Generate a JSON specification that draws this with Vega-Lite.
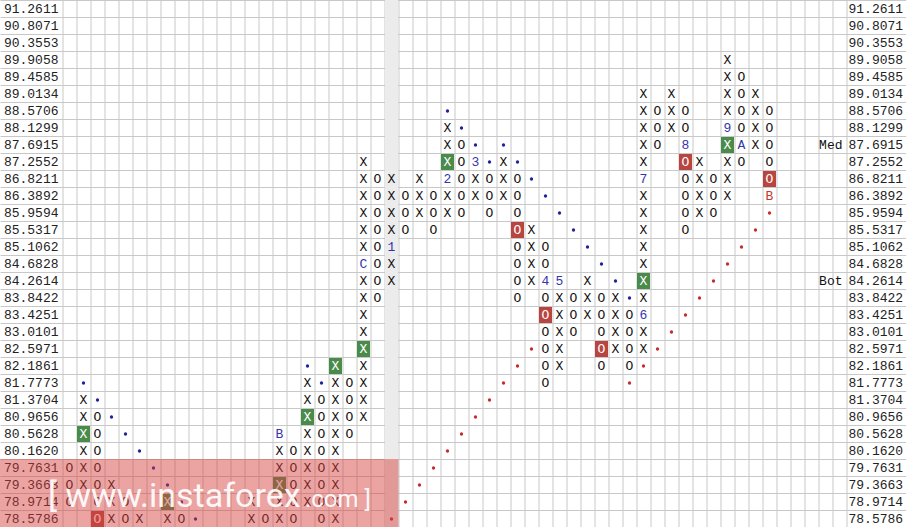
{
"$schema": "https://vega.github.io/schema/vega-lite/v6.json",
"width": 906, "height": 527,
"autosize": {"type": "none"},
"padding": 0,
"background": "white",
"config": {"view": {"stroke": null}},
"datasets": {
"gray": [{"c": 23}],
"green": [{"c":1,"p":"80.5628"},{"c":7,"p":"78.9714"},{"c":15,"p":"79.3663"},{"c":17,"p":"80.9656"},{"c":19,"p":"82.1861"},{"c":21,"p":"82.5971"},{"c":27,"p":"87.2552"},{"c":41,"p":"84.2614"},{"c":47,"p":"87.6915"}],
"red": [{"c":2,"p":"78.5786"},{"c":32,"p":"85.5317"},{"c":34,"p":"83.4251"},{"c":38,"p":"82.5971"},{"c":44,"p":"87.2552"},{"c":50,"p":"86.8211"}],
"white": [{"c":1,"p":"80.5628","t":"X"},{"c":7,"p":"78.9714","t":"X"},{"c":15,"p":"79.3663","t":"X"},{"c":17,"p":"80.9656","t":"X"},{"c":19,"p":"82.1861","t":"X"},{"c":21,"p":"82.5971","t":"X"},{"c":27,"p":"87.2552","t":"X"},{"c":41,"p":"84.2614","t":"X"},{"c":47,"p":"87.6915","t":"X"},{"c":2,"p":"78.5786","t":"O"},{"c":32,"p":"85.5317","t":"O"},{"c":34,"p":"83.4251","t":"O"},{"c":38,"p":"82.5971","t":"O"},{"c":44,"p":"87.2552","t":"O"},{"c":50,"p":"86.8211","t":"O"}],
"blue": [{"c":15,"p":"80.5628","t":"B"},{"c":21,"p":"84.6828","t":"C"},{"c":23,"p":"85.1062","t":"1"},{"c":27,"p":"86.8211","t":"2"},{"c":29,"p":"87.2552","t":"3"},{"c":34,"p":"84.2614","t":"4"},{"c":35,"p":"84.2614","t":"5"},{"c":41,"p":"83.4251","t":"6"},{"c":41,"p":"86.8211","t":"7"},{"c":44,"p":"87.6915","t":"8"},{"c":47,"p":"88.1299","t":"9"},{"c":48,"p":"87.6915","t":"A"}],
"redtext": [{"c":50,"p":"86.3892","t":"B"}],
"bdots": [{"c":1,"p":"81.7773"},{"c":2,"p":"81.3704"},{"c":3,"p":"80.9656"},{"c":4,"p":"80.5628"},{"c":5,"p":"80.1620"},{"c":6,"p":"79.7631"},{"c":7,"p":"79.3663"},{"c":8,"p":"78.9714"},{"c":9,"p":"78.5786"},{"c":17,"p":"82.1861"},{"c":18,"p":"81.7773"},{"c":27,"p":"88.5706"},{"c":28,"p":"88.1299"},{"c":29,"p":"87.6915"},{"c":30,"p":"87.2552"},{"c":31,"p":"87.6915"},{"c":32,"p":"87.2552"},{"c":33,"p":"86.8211"},{"c":34,"p":"86.3892"},{"c":35,"p":"85.9594"},{"c":36,"p":"85.5317"},{"c":37,"p":"85.1062"},{"c":38,"p":"84.6828"},{"c":39,"p":"84.2614"},{"c":40,"p":"83.8422"}],
"rdots": [{"c":23,"p":"78.5786"},{"c":24,"p":"78.9714"},{"c":25,"p":"79.3663"},{"c":26,"p":"79.7631"},{"c":27,"p":"80.1620"},{"c":28,"p":"80.5628"},{"c":29,"p":"80.9656"},{"c":30,"p":"81.3704"},{"c":31,"p":"81.7773"},{"c":32,"p":"82.1861"},{"c":33,"p":"82.5971"},{"c":40,"p":"81.7773"},{"c":41,"p":"82.1861"},{"c":42,"p":"82.5971"},{"c":43,"p":"83.0101"},{"c":44,"p":"83.4251"},{"c":45,"p":"83.8422"},{"c":46,"p":"84.2614"},{"c":47,"p":"84.6828"},{"c":48,"p":"85.1062"},{"c":49,"p":"85.5317"},{"c":50,"p":"85.9594"}],
"notes": [{"c":55,"p":"87.6915","t":"Med"},{"c":55,"p":"84.2614","t":"Bot"}],
"wm": [{"p":"79.7631"},{"p":"79.3663"},{"p":"78.9714"},{"p":"78.5786"}],
"xo": [
{"c":0,"p":"79.7631","t":"O"},{"c":0,"p":"79.3663","t":"O"},{"c":0,"p":"78.9714","t":"O"},
{"c":1,"p":"81.3704","t":"X"},{"c":1,"p":"80.9656","t":"X"},{"c":1,"p":"80.1620","t":"X"},{"c":1,"p":"79.7631","t":"X"},{"c":1,"p":"79.3663","t":"X"},
{"c":2,"p":"80.9656","t":"O"},{"c":2,"p":"80.5628","t":"O"},{"c":2,"p":"80.1620","t":"O"},{"c":2,"p":"79.7631","t":"O"},{"c":2,"p":"79.3663","t":"O"},{"c":2,"p":"78.9714","t":"O"},
{"c":3,"p":"79.3663","t":"X"},{"c":3,"p":"78.9714","t":"X"},{"c":3,"p":"78.5786","t":"X"},
{"c":4,"p":"78.9714","t":"O"},{"c":4,"p":"78.5786","t":"O"},
{"c":5,"p":"78.5786","t":"X"},
{"c":7,"p":"78.5786","t":"X"},
{"c":8,"p":"78.5786","t":"O"},
{"c":13,"p":"78.9714","t":"X"},{"c":13,"p":"78.5786","t":"X"},
{"c":14,"p":"78.5786","t":"O"},
{"c":15,"p":"80.1620","t":"X"},{"c":15,"p":"79.7631","t":"X"},{"c":15,"p":"78.9714","t":"X"},{"c":15,"p":"78.5786","t":"X"},
{"c":16,"p":"80.1620","t":"O"},{"c":16,"p":"79.7631","t":"O"},{"c":16,"p":"79.3663","t":"O"},{"c":16,"p":"78.9714","t":"O"},{"c":16,"p":"78.5786","t":"O"},
{"c":17,"p":"81.7773","t":"X"},{"c":17,"p":"81.3704","t":"X"},{"c":17,"p":"80.5628","t":"X"},{"c":17,"p":"80.1620","t":"X"},{"c":17,"p":"79.7631","t":"X"},{"c":17,"p":"79.3663","t":"X"},{"c":17,"p":"78.9714","t":"X"},
{"c":18,"p":"81.3704","t":"O"},{"c":18,"p":"80.9656","t":"O"},{"c":18,"p":"80.5628","t":"O"},{"c":18,"p":"80.1620","t":"O"},{"c":18,"p":"79.7631","t":"O"},{"c":18,"p":"79.3663","t":"O"},{"c":18,"p":"78.9714","t":"O"},{"c":18,"p":"78.5786","t":"O"},
{"c":19,"p":"81.7773","t":"X"},{"c":19,"p":"81.3704","t":"X"},{"c":19,"p":"80.9656","t":"X"},{"c":19,"p":"80.5628","t":"X"},{"c":19,"p":"80.1620","t":"X"},{"c":19,"p":"79.7631","t":"X"},{"c":19,"p":"79.3663","t":"X"},{"c":19,"p":"78.9714","t":"X"},{"c":19,"p":"78.5786","t":"X"},
{"c":20,"p":"81.7773","t":"O"},{"c":20,"p":"81.3704","t":"O"},{"c":20,"p":"80.9656","t":"O"},{"c":20,"p":"80.5628","t":"O"},
{"c":21,"p":"87.2552","t":"X"},{"c":21,"p":"86.8211","t":"X"},{"c":21,"p":"86.3892","t":"X"},{"c":21,"p":"85.9594","t":"X"},{"c":21,"p":"85.5317","t":"X"},{"c":21,"p":"85.1062","t":"X"},{"c":21,"p":"84.2614","t":"X"},{"c":21,"p":"83.8422","t":"X"},{"c":21,"p":"83.4251","t":"X"},{"c":21,"p":"83.0101","t":"X"},{"c":21,"p":"82.1861","t":"X"},{"c":21,"p":"81.7773","t":"X"},{"c":21,"p":"81.3704","t":"X"},{"c":21,"p":"80.9656","t":"X"},
{"c":22,"p":"86.8211","t":"O"},{"c":22,"p":"86.3892","t":"O"},{"c":22,"p":"85.9594","t":"O"},{"c":22,"p":"85.5317","t":"O"},{"c":22,"p":"85.1062","t":"O"},{"c":22,"p":"84.6828","t":"O"},{"c":22,"p":"84.2614","t":"O"},{"c":22,"p":"83.8422","t":"O"},
{"c":23,"p":"86.8211","t":"X"},{"c":23,"p":"86.3892","t":"X"},{"c":23,"p":"85.9594","t":"X"},{"c":23,"p":"85.5317","t":"X"},{"c":23,"p":"84.6828","t":"X"},{"c":23,"p":"84.2614","t":"X"},
{"c":24,"p":"86.3892","t":"O"},{"c":24,"p":"85.9594","t":"O"},{"c":24,"p":"85.5317","t":"O"},
{"c":25,"p":"86.8211","t":"X"},{"c":25,"p":"86.3892","t":"X"},{"c":25,"p":"85.9594","t":"X"},
{"c":26,"p":"86.3892","t":"O"},{"c":26,"p":"85.9594","t":"O"},{"c":26,"p":"85.5317","t":"O"},
{"c":27,"p":"88.1299","t":"X"},{"c":27,"p":"87.6915","t":"X"},{"c":27,"p":"86.3892","t":"X"},{"c":27,"p":"85.9594","t":"X"},
{"c":28,"p":"87.6915","t":"O"},{"c":28,"p":"87.2552","t":"O"},{"c":28,"p":"86.8211","t":"O"},{"c":28,"p":"86.3892","t":"O"},{"c":28,"p":"85.9594","t":"O"},
{"c":29,"p":"86.8211","t":"X"},{"c":29,"p":"86.3892","t":"X"},
{"c":30,"p":"86.8211","t":"O"},{"c":30,"p":"86.3892","t":"O"},{"c":30,"p":"85.9594","t":"O"},
{"c":31,"p":"87.2552","t":"X"},{"c":31,"p":"86.8211","t":"X"},{"c":31,"p":"86.3892","t":"X"},
{"c":32,"p":"86.8211","t":"O"},{"c":32,"p":"86.3892","t":"O"},{"c":32,"p":"85.9594","t":"O"},{"c":32,"p":"85.1062","t":"O"},{"c":32,"p":"84.6828","t":"O"},{"c":32,"p":"84.2614","t":"O"},{"c":32,"p":"83.8422","t":"O"},
{"c":33,"p":"85.5317","t":"X"},{"c":33,"p":"85.1062","t":"X"},{"c":33,"p":"84.6828","t":"X"},{"c":33,"p":"84.2614","t":"X"},
{"c":34,"p":"85.1062","t":"O"},{"c":34,"p":"84.6828","t":"O"},{"c":34,"p":"83.8422","t":"O"},{"c":34,"p":"83.0101","t":"O"},{"c":34,"p":"82.5971","t":"O"},{"c":34,"p":"82.1861","t":"O"},{"c":34,"p":"81.7773","t":"O"},
{"c":35,"p":"83.8422","t":"X"},{"c":35,"p":"83.4251","t":"X"},{"c":35,"p":"83.0101","t":"X"},{"c":35,"p":"82.5971","t":"X"},{"c":35,"p":"82.1861","t":"X"},
{"c":36,"p":"83.8422","t":"O"},{"c":36,"p":"83.4251","t":"O"},{"c":36,"p":"83.0101","t":"O"},
{"c":37,"p":"84.2614","t":"X"},{"c":37,"p":"83.8422","t":"X"},{"c":37,"p":"83.4251","t":"X"},
{"c":38,"p":"83.8422","t":"O"},{"c":38,"p":"83.4251","t":"O"},{"c":38,"p":"83.0101","t":"O"},{"c":38,"p":"82.1861","t":"O"},
{"c":39,"p":"83.8422","t":"X"},{"c":39,"p":"83.4251","t":"X"},{"c":39,"p":"83.0101","t":"X"},{"c":39,"p":"82.5971","t":"X"},
{"c":40,"p":"83.4251","t":"O"},{"c":40,"p":"83.0101","t":"O"},{"c":40,"p":"82.5971","t":"O"},{"c":40,"p":"82.1861","t":"O"},
{"c":41,"p":"89.0134","t":"X"},{"c":41,"p":"88.5706","t":"X"},{"c":41,"p":"88.1299","t":"X"},{"c":41,"p":"87.6915","t":"X"},{"c":41,"p":"87.2552","t":"X"},{"c":41,"p":"86.3892","t":"X"},{"c":41,"p":"85.9594","t":"X"},{"c":41,"p":"85.5317","t":"X"},{"c":41,"p":"85.1062","t":"X"},{"c":41,"p":"84.6828","t":"X"},{"c":41,"p":"83.8422","t":"X"},{"c":41,"p":"83.0101","t":"X"},{"c":41,"p":"82.5971","t":"X"},
{"c":42,"p":"88.5706","t":"O"},{"c":42,"p":"88.1299","t":"O"},{"c":42,"p":"87.6915","t":"O"},
{"c":43,"p":"89.0134","t":"X"},{"c":43,"p":"88.5706","t":"X"},{"c":43,"p":"88.1299","t":"X"},
{"c":44,"p":"88.5706","t":"O"},{"c":44,"p":"88.1299","t":"O"},{"c":44,"p":"86.8211","t":"O"},{"c":44,"p":"86.3892","t":"O"},{"c":44,"p":"85.9594","t":"O"},{"c":44,"p":"85.5317","t":"O"},
{"c":45,"p":"87.2552","t":"X"},{"c":45,"p":"86.8211","t":"X"},{"c":45,"p":"86.3892","t":"X"},{"c":45,"p":"85.9594","t":"X"},
{"c":46,"p":"86.8211","t":"O"},{"c":46,"p":"86.3892","t":"O"},{"c":46,"p":"85.9594","t":"O"},
{"c":47,"p":"89.9058","t":"X"},{"c":47,"p":"89.4585","t":"X"},{"c":47,"p":"89.0134","t":"X"},{"c":47,"p":"88.5706","t":"X"},{"c":47,"p":"87.2552","t":"X"},{"c":47,"p":"86.8211","t":"X"},{"c":47,"p":"86.3892","t":"X"},
{"c":48,"p":"89.4585","t":"O"},{"c":48,"p":"89.0134","t":"O"},{"c":48,"p":"88.5706","t":"O"},{"c":48,"p":"88.1299","t":"O"},{"c":48,"p":"87.2552","t":"O"},
{"c":49,"p":"89.0134","t":"X"},{"c":49,"p":"88.5706","t":"X"},{"c":49,"p":"88.1299","t":"X"},{"c":49,"p":"87.6915","t":"X"},
{"c":50,"p":"88.5706","t":"O"},{"c":50,"p":"88.1299","t":"O"},{"c":50,"p":"87.6915","t":"O"},{"c":50,"p":"87.2552","t":"O"}
]
},
"layer": [
{
 "data": {"name": "gray"},
 "mark": {"type": "rule", "color": "#ececec", "strokeWidth": 13},
 "encoding": {
  "x": {"field": "c", "type": "quantitative",
   "scale": {"domain": [-4.9643, 59.75], "nice": false, "zero": false},
   "axis": {"values": [-0.5,0.5,1.5,2.5,3.5,4.5,5.5,6.5,7.5,8.5,9.5,10.5,11.5,12.5,13.5,14.5,15.5,16.5,17.5,18.5,19.5,20.5,21.5,22.5,23.5,24.5,25.5,26.5,27.5,28.5,29.5,30.5,31.5,32.5,33.5,34.5,35.5,36.5,37.5,38.5,39.5,40.5,41.5,42.5,43.5,44.5,45.5,46.5,47.5,48.5,49.5,50.5,51.5,52.5,53.5,54.5,55.5],
    "tickCount": 200,
    "grid": true, "gridColor": "#c8c8c8", "gridWidth": 1, "labels": false, "ticks": false, "domain": false, "title": null, "translate": 0}
  }
 }
},
{
 "data": {"name": "green"},
 "mark": {"type": "point", "shape": "M-1,-1.2308L1,-1.2308L1,1.2308L-1,1.2308Z", "filled": true, "size": 169, "opacity": 1, "color": "#4a8b4c", "yOffset": 0.5},
 "encoding": {
  "x": {"field": "c", "type": "quantitative"},
  "y": {"field": "p", "type": "ordinal",
   "scale": {"domain": ["91.2611","90.8071","90.3553","89.9058","89.4585","89.0134","88.5706","88.1299","87.6915","87.2552","86.8211","86.3892","85.9594","85.5317","85.1062","84.6828","84.2614","83.8422","83.4251","83.0101","82.5971","82.1861","81.7773","81.3704","80.9656","80.5628","80.1620","79.7631","79.3663","78.9714","78.5786"], "paddingInner": 0, "paddingOuter": 0},
   "axis": {"orient": "left", "offset": -62, "grid": true, "gridColor": "#c8c8c8", "gridWidth": 1, "tickBand": "extent", "ticks": false, "tickSize": 0, "domain": false, "title": null, "labelFont": "Liberation Mono", "labelFontSize": 13, "labelColor": "#222222", "labelPadding": 4}
  }
 }
},
{
 "data": {"name": "red"},
 "mark": {"type": "point", "shape": "M-1,-1.2308L1,-1.2308L1,1.2308L-1,1.2308Z", "filled": true, "size": 169, "opacity": 1, "color": "#b8453f", "yOffset": 0.5},
 "encoding": {
  "x": {"field": "c", "type": "quantitative"},
  "y": {"field": "p", "type": "ordinal", "axis": null}
 }
},
{
 "data": {"name": "bdots"},
 "mark": {"type": "circle", "size": 11, "opacity": 1, "color": "#1f1f9a", "yOffset": 0.5},
 "encoding": {
  "x": {"field": "c", "type": "quantitative"},
  "y": {"field": "p", "type": "ordinal", "axis": null}
 }
},
{
 "data": {"name": "rdots"},
 "mark": {"type": "circle", "size": 11, "opacity": 1, "color": "#c42a2a", "yOffset": 0.5},
 "encoding": {
  "x": {"field": "c", "type": "quantitative"},
  "y": {"field": "p", "type": "ordinal", "axis": null}
 }
},
{
 "data": {"name": "xo"},
 "mark": {"type": "text", "font": "Liberation Mono", "fontSize": 13, "color": "#111111", "baseline": "middle", "align": "center", "yOffset": 0.5},
 "encoding": {
  "x": {"field": "c", "type": "quantitative"},
  "y": {"field": "p", "type": "ordinal",
   "axis": {"orient": "right", "offset": -60, "grid": false, "ticks": false, "tickSize": 0, "domain": false, "title": null, "labelFont": "Liberation Mono", "labelFontSize": 13, "labelColor": "#222222", "labelPadding": 2}},
  "text": {"field": "t"}
 }
},
{
 "data": {"name": "white"},
 "mark": {"type": "text", "font": "Liberation Mono", "fontSize": 13, "color": "#ffffff", "baseline": "middle", "align": "center", "yOffset": 0.5},
 "encoding": {
  "x": {"field": "c", "type": "quantitative"},
  "y": {"field": "p", "type": "ordinal", "axis": null},
  "text": {"field": "t"}
 }
},
{
 "data": {"name": "blue"},
 "mark": {"type": "text", "font": "Liberation Mono", "fontSize": 13, "color": "#3434b0", "baseline": "middle", "align": "center", "yOffset": 0.5},
 "encoding": {
  "x": {"field": "c", "type": "quantitative"},
  "y": {"field": "p", "type": "ordinal", "axis": null},
  "text": {"field": "t"}
 }
},
{
 "data": {"name": "redtext"},
 "mark": {"type": "text", "font": "Liberation Mono", "fontSize": 13, "color": "#c0392b", "baseline": "middle", "align": "center", "yOffset": 0.5},
 "encoding": {
  "x": {"field": "c", "type": "quantitative"},
  "y": {"field": "p", "type": "ordinal", "axis": null},
  "text": {"field": "t"}
 }
},
{
 "data": {"name": "notes"},
 "mark": {"type": "text", "font": "Liberation Mono", "fontSize": 13, "color": "#111111", "baseline": "middle", "align": "right", "dx": 3, "yOffset": 0.5},
 "encoding": {
  "x": {"field": "c", "type": "quantitative"},
  "y": {"field": "p", "type": "ordinal", "axis": null},
  "text": {"field": "t"}
 }
},
{
 "data": {"name": "wm"},
 "mark": {"type": "rect", "color": "#d8403f", "opacity": 0.48},
 "encoding": {
  "x": {"datum": -4.9643, "type": "quantitative"},
  "x2": {"datum": 23.5},
  "y": {"field": "p", "type": "ordinal", "axis": null}
 }
},
{
 "data": {"values": [{"c": -1.536, "p": "78.9714", "t": "[ www.instaforex"}]},
 "mark": {"type": "text", "font": "Roboto", "fontSize": 34, "color": "#ffffff", "opacity": 0.92, "baseline": "alphabetic", "align": "left", "dy": 5},
 "encoding": {
  "x": {"field": "c", "type": "quantitative"},
  "y": {"field": "p", "type": "ordinal", "axis": null},
  "text": {"field": "t"}
 }
},
{
 "data": {"values": [{"c": 16.82, "p": "78.9714", "t": ".com ]"}]},
 "mark": {"type": "text", "font": "Roboto", "fontSize": 24, "color": "#ffffff", "opacity": 0.92, "baseline": "alphabetic", "align": "left", "dy": 5},
 "encoding": {
  "x": {"field": "c", "type": "quantitative"},
  "y": {"field": "p", "type": "ordinal", "axis": null},
  "text": {"field": "t"}
 }
}
],
"resolve": {"axis": {"y": "independent"}}
}
